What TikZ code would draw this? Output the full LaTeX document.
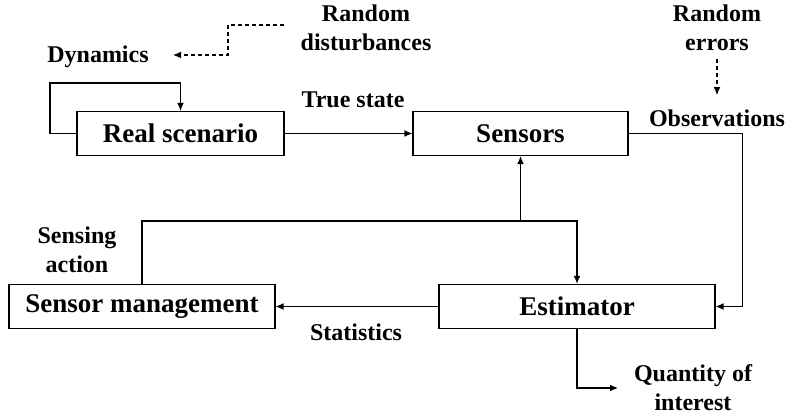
\documentclass[tikz,border=0pt]{standalone}
\usepackage{fontspec}
\setmainfont{Liberation Serif}
\usetikzlibrary{arrows.meta}
\begin{document}
\begin{tikzpicture}[x=0.5pt,y=-0.5pt,
  blockbox/.style={draw,line width=0.6pt,minimum height=22pt,inner sep=0pt,
    font=\fontsize{13.5}{16}\selectfont\bfseries},
  lbl/.style={align=center,inner sep=0pt,font=\fontsize{12}{14.5}\selectfont\bfseries},
  arr/.style={line width=0.6pt,-{Latex[length=4pt,width=3.4pt]}},
  dasharr/.style={arr,dash pattern=on 2pt off 1.5pt}]
\useasboundingbox (0,0) rectangle (788,416);

% blocks
\node[blockbox,minimum width=103.5pt] (real) at (180.5,133.5) {Real scenario};
\node[blockbox,minimum width=107.5pt] (sens) at (520.5,133.5) {Sensors};
\node[blockbox,minimum width=133pt] (sm) at (142,306.5) {Sensor management};
\node[blockbox,minimum width=138pt] (est) at (577,306.5) {Estimator};

% labels
\node[lbl] (dyn) at (98,57) {Dynamics};
\node[lbl] (dist) at (366,28) {Random\\disturbances};
\node[lbl] (true) at (353,100) {True state};
\node[lbl] (err) at (717,28) {Random\\errors};
\node[lbl] (obs) at (717,118) {Observations};
\node[lbl] (act) at (77,250) {Sensing\\action};
\node[lbl] (stat) at (356,332) {Statistics};
\node[lbl] (qty) at (693,388) {Quantity of\\interest};

% helper points
\coordinate (dynL) at (50,83);
\coordinate (dstart) at (284,25);
\coordinate (dknee) at (228,25);
\coordinate (dend) at (173,55);
\coordinate (sk) at (0,221);
\coordinate (qend) at (618,388);

% connectors
\draw[arr] (real.west) -| (dynL) -| (real.north);
\draw[dasharr] (dstart) -- (dknee) |- (dend);
\draw[arr] (real.east) -- (sens.west);
\draw[dasharr,shorten <=4pt,shorten >=7pt] (err.south) -- (obs.north);
\draw[arr] (sens.east) -| ([xshift=13.5pt]est.east) -- (est.east);
\draw[arr] (sm.north) |- (sk -| est.north) -- (est.north);
\draw[arr] (sk -| sens.south) -- (sens.south);
\draw[arr] (est.west) -- (sm.east);
\draw[arr] (est.south) |- (qend);
\end{tikzpicture}
\end{document}
